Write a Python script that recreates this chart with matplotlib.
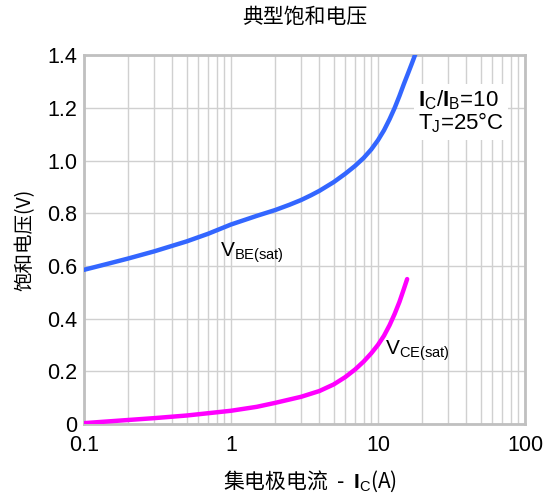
import matplotlib
matplotlib.use("Agg")
import matplotlib.pyplot as plt
from matplotlib.ticker import FixedLocator, NullFormatter

plt.rcParams["font.family"] = ["Liberation Sans", "Noto Sans CJK SC", "DejaVu Sans"]
plt.rcParams["mathtext.fontset"] = "custom"
plt.rcParams["mathtext.rm"] = "Liberation Sans"
plt.rcParams["mathtext.bf"] = "Liberation Sans:bold"

# V_BE(sat) curve
vbe_ic = [0.1, 0.15, 0.2, 0.3, 0.5, 0.7, 1.0, 1.5, 2.0, 2.5, 3.0, 3.5, 4.0, 5.0, 6.0, 7.0, 8.0, 9.0,
          10.0, 11.0, 12.0, 13.0, 14.0, 15.0, 16.0, 17.0, 18.0]
vbe_v = [0.585, 0.610, 0.628, 0.655, 0.693, 0.722, 0.757, 0.790, 0.812, 0.832, 0.850, 0.868, 0.885,
         0.918, 0.950, 0.980, 1.010, 1.042, 1.077, 1.115, 1.157, 1.200, 1.245, 1.290, 1.330, 1.368, 1.405]

# V_CE(sat) curve
vce_ic = [0.1, 0.2, 0.3, 0.5, 1.0, 1.5, 2.0, 3.0, 4.0, 5.0, 6.0, 7.0, 8.0, 9.0, 10.0,
          11.0, 12.0, 13.0, 14.0, 15.0, 15.8]
vce_v = [0.003, 0.015, 0.022, 0.032, 0.050, 0.065, 0.080, 0.103, 0.125, 0.150, 0.178, 0.207,
         0.237, 0.268, 0.300, 0.335, 0.375, 0.418, 0.463, 0.512, 0.550]

y_ticks = [0, 0.2, 0.4, 0.6, 0.8, 1.0, 1.2, 1.4]
y_labels = ["0", "0.2", "0.4", "0.6", "0.8", "1.0", "1.2", "1.4"]
x_ticks = [0.1, 1, 10, 100]
x_labels = ["0.1", "1", "10", "100"]

fig = plt.figure(figsize=(5.52, 4.97), dpi=100)
ax = fig.add_axes([0.152, 0.147, 0.799, 0.742])

ax.plot(vbe_ic, vbe_v, color="#3366ff", lw=3.2, solid_capstyle="round", zorder=3)
ax.plot(vce_ic, vce_v, color="#ff00ff", lw=3.2, solid_capstyle="round", zorder=3)

ax.set_xscale("log")
ax.set_xlim(0.1, 100)
ax.set_ylim(0, 1.4)
ax.xaxis.set_major_locator(FixedLocator(x_ticks))
ax.set_xticklabels(x_labels)
minors = [m * d for d in [0.1, 1, 10] for m in range(2, 10)]
ax.xaxis.set_minor_locator(FixedLocator(minors))
ax.xaxis.set_minor_formatter(NullFormatter())
ax.set_yticks(y_ticks)
ax.set_yticklabels(y_labels)
ax.tick_params(which="both", length=0, labelsize=15.5, colors="black")
ax.tick_params(axis="x", pad=8)
ax.tick_params(axis="y", pad=5)

ax.grid(True, which="both", axis="x", color="#d0d0d0", lw=1.0)
ax.grid(True, which="major", axis="y", color="#d0d0d0", lw=1.0)
for s in ax.spines.values():
    s.set_color("#c0c0c0")
    s.set_linewidth(2)

ax.text(0.84, 0.65, r"V$_{\mathrm{BE(sat)}}$", fontsize=15, ha="left", va="center")
ax.text(11.2, 0.28, r"V$_{\mathrm{CE(sat)}}$", fontsize=15, ha="left", va="center")
ax.text(18.8, 1.185, r"$\mathbf{I}_{\mathrm{C}}$/$\mathbf{I}_{\mathrm{B}}$=10" + "\n" + r"T$_{\mathrm{J}}$=25°C",
        fontsize=16, ha="left", va="center", linespacing=0.95,
        bbox=dict(facecolor="white", edgecolor="none", pad=3), zorder=4)

fig.text(0.552, 0.966, "典型饱和电压", fontsize=15, ha="center", va="center",
         family=["Noto Sans CJK SC", "DejaVu Sans"])
fig.text(0.045, 0.517, "饱和电压(V)", fontsize=14, ha="center", va="center", rotation=90,
         family=["Noto Sans CJK SC", "Liberation Sans"])
fig.text(0.562, 0.032, r"集电极电流  -  $\mathbf{I}_{\mathrm{C}}$(A)", fontsize=15, ha="center", va="center",
         family=["Noto Sans CJK SC", "Liberation Sans"])

fig.savefig("out.png", dpi=100)
